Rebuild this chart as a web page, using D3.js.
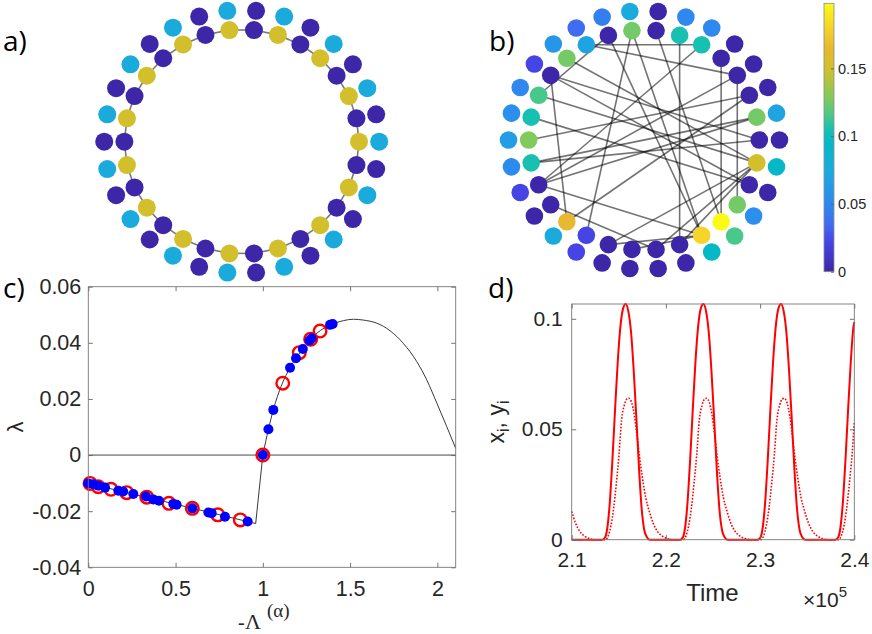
<!DOCTYPE html>
<html>
<head>
<meta charset="utf-8">
<script src="https://cdn.jsdelivr.net/npm/d3@7"></script>
<style>
  body { margin: 0; background: #fff; }
  svg { display: block; }
</style>
</head>
<body>
<svg id="fig" width="872" height="634"></svg>
<script>
// ---------------- data ----------------

// a) ring network: value of each node, inner ring and attached outer leaves
var ringInnerValue = [0.15,0,0.15,0,0.15,0,0.15,0,0.15,0,0.15,0,0.15,0,0.15,0,0.15,0,0.15,0,0.15,0,0.15,0,0.15,0,0.15,0,0.15,0];
var ringOuterValue = [0.075,0,0.075,0,0.075,0,0.075,0,0.075,0,0.075,0,0.075,0,0.075,0,0.075,0,0.075,0,0.075,0,0.075,0,0.075,0,0.075,0,0.075,0];

// b) random network
var netInnerValue = [0,0.125,0,0,0,0.105,0.105,0,0.125,0,0.07,0.125,0,0.115,0.105,0.128,0.105,0,0,0.165,0.022,0,0,0,0,0.18,0.198,0.125,0,0.15];
var netOuterValue = [0,0.07,0,0,0,0.05,0.05,0,0.075,0.045,0.035,0.06,0.022,0.05,0.055,0.065,0.052,0.022,0,0.075,0.022,0,0,0,0,0.095,0.115,0.055,0,0.095];
var netEdges = [[10,5],[6,24],[4,26],[3,27],[12,19],[9,13],[5,17],[17,3],[17,1],[17,25],
                [16,0],[16,1],[19,2],[8,20],[8,25],[7,26],[9,25],[12,28],[12,0],[10,3],
                [15,2],[13,29],[14,28],[11,29],[21,29],[21,25],[22,25],[18,23],[24,29],[23,29]];

// colour bar (parula-like)
var colorStops = [0,0.022,0.035,0.05,0.065,0.075,0.095,0.105,0.115,0.128,0.15,0.165,0.18,0.198];
var colorHex   = ["#3e26a8","#4545e6","#3f6cf0","#2e88f0","#229de6","#1aabdc","#04b8c8","#18c0b2","#48c88a","#80cb5c","#d2bf2b","#e8b830","#f6d42a","#f9fb14"];
var cbMax = 0.198;
var cbTicks = [0, 0.05, 0.1, 0.15];

// c) master stability function and Floquet exponents
var mstLower = [[0,-0.0101],[0.5,-0.0175],[0.959,-0.0244],[1.0,0]];
var mstUpper = [[1.0,0],[1.032,0.0092],[1.06,0.0161],[1.108,0.025],[1.156,0.0311],[1.229,0.0378],[1.309,0.0434],
                [1.4,0.0467],[1.461,0.0479],[1.519,0.0484],[1.576,0.0481],[1.653,0.047],[1.729,0.0443],[1.805,0.0398],
                [1.882,0.0333],[1.939,0.0268],[1.997,0.0185],[2.054,0.0101],[2.105,0.0024]];
var redPoints = [[0.01,-0.0101],[0.057,-0.0113],[0.13,-0.0122],[0.22,-0.0134],[0.335,-0.015],[0.462,-0.0172],
                 [0.596,-0.019],[0.742,-0.0213],[0.871,-0.0231],[1.0,0],[1.114,0.0256],[1.209,0.0365],[1.274,0.0413],[1.328,0.0442]];
var bluePoints = [[0,-0.0101],[0.029,-0.0104],[0.057,-0.0109],[0.096,-0.0116],[0.172,-0.0127],[0.2,-0.013],[0.258,-0.0139],
                  [0.331,-0.0148],[0.372,-0.0158],[0.405,-0.0163],[0.487,-0.0174],[0.506,-0.0177],[0.596,-0.019],[0.688,-0.0205],
                  [0.707,-0.0207],[0.783,-0.022],[0.913,-0.0237],[1.0,0],[1.032,0.0092],[1.06,0.0161],[1.156,0.0311],
                  [1.19,0.0345],[1.229,0.0378],[1.267,0.0408],[1.28,0.0416],[1.385,0.0464],[1.4,0.0467]];
var cXTicks = [0, 0.5, 1, 1.5, 2];
var cYTicks = [-0.04, -0.02, 0, 0.02, 0.04, 0.06];

// d) time series x_i (solid) and y_i (dotted), time in units of 1e5
var solidSeries = [[2.1,0],[2.1325,0],[2.1354,0.001],[2.1378,0.0053],[2.1403,0.016],[2.1431,0.0352],[2.146,0.0587],[2.1488,0.08],
  [2.1516,0.096],[2.1545,0.1046],[2.1573,0.1067],[2.1601,0.1035],[2.163,0.0939],[2.1658,0.0768],[2.1686,0.0555],[2.1715,0.032],
  [2.1743,0.0139],[2.1771,0.0043],[2.1799,0.0011],[2.1828,0],
  [2.215,0],[2.2179,0.001],[2.2203,0.0053],[2.2228,0.016],[2.2256,0.0352],[2.2285,0.0587],[2.2313,0.08],[2.2341,0.096],
  [2.237,0.1046],[2.2398,0.1067],[2.2426,0.1035],[2.2455,0.0939],[2.2483,0.0768],[2.2511,0.0555],[2.254,0.032],[2.2568,0.0139],
  [2.2596,0.0043],[2.2624,0.0011],[2.2653,0],
  [2.2974,0],[2.3003,0.001],[2.3027,0.0053],[2.3052,0.016],[2.308,0.0352],[2.3109,0.0587],[2.3137,0.08],[2.3165,0.096],
  [2.3194,0.1046],[2.3222,0.1067],[2.325,0.1035],[2.3279,0.0939],[2.3307,0.0768],[2.3335,0.0555],[2.3364,0.032],[2.3392,0.0139],
  [2.342,0.0043],[2.3448,0.0011],[2.3477,0],
  [2.3799,0],[2.3828,0.001],[2.3852,0.0053],[2.3877,0.016],[2.3905,0.0352],[2.3934,0.0587],[2.3962,0.08],[2.399,0.096],[2.4,0.0985]];
var dottedSeries = [[2.1,0.0128],[2.1039,0.0077],[2.1085,0.0038],[2.1138,0.0016],[2.1191,0.0005],[2.1244,0],
  [2.136,0],[2.1389,0.0019],[2.1417,0.0064],[2.1445,0.0141],[2.1474,0.0256],[2.1502,0.0384],[2.153,0.0544],[2.1558,0.0608],
  [2.1587,0.0637],[2.1608,0.064],[2.1636,0.0621],[2.1665,0.0563],[2.1693,0.0474],[2.1721,0.0371],[2.175,0.0282],[2.1785,0.0192],
  [2.1824,0.0128],[2.1863,0.0077],[2.1909,0.0038],[2.1962,0.0016],[2.2015,0.0005],[2.2068,0],
  [2.2185,0],[2.2214,0.0019],[2.2242,0.0064],[2.227,0.0141],[2.2299,0.0256],[2.2327,0.0384],[2.2355,0.0544],[2.2383,0.0608],
  [2.2412,0.0637],[2.2433,0.064],[2.2461,0.0621],[2.249,0.0563],[2.2518,0.0474],[2.2546,0.0371],[2.2575,0.0282],[2.261,0.0192],
  [2.2649,0.0128],[2.2688,0.0077],[2.2734,0.0038],[2.2787,0.0016],[2.284,0.0005],[2.2893,0],
  [2.3009,0],[2.3038,0.0019],[2.3066,0.0064],[2.3094,0.0141],[2.3123,0.0256],[2.3151,0.0384],[2.3179,0.0544],[2.3207,0.0608],
  [2.3236,0.0637],[2.3257,0.064],[2.3285,0.0621],[2.3314,0.0563],[2.3342,0.0474],[2.337,0.0371],[2.3399,0.0282],[2.3434,0.0192],
  [2.3473,0.0128],[2.3512,0.0077],[2.3558,0.0038],[2.3611,0.0016],[2.3664,0.0005],[2.3717,0],
  [2.3834,0],[2.3863,0.0019],[2.3891,0.0064],[2.3919,0.0141],[2.3948,0.0256],[2.3976,0.0384],[2.4,0.053]];
var dXTicks = [2.1, 2.2, 2.3, 2.4];
var dYTicks = [0, 0.05, 0.1];

// ---------------- drawing ----------------
var svg = d3.select("#fig");
var tickFont = "'Liberation Sans', Arial, Helvetica, sans-serif";
var labelFont = "'Open Sans', Lato, sans-serif";
var textColor = "#262626";

var color = d3.scaleLinear().domain(colorStops).range(colorHex).clamp(true);

// Circular layout: node i of n sits at angle 2*pi*i/n, outer leaves a bit further out
function drawNetwork(innerVal, outerVal, edges, box, edgeStyle) {
  var n = innerVal.length;
  var sx = d3.scaleLinear().domain([-1, 1]).range([box.cx - box.rx, box.cx + box.rx]);
  var sy = d3.scaleLinear().domain([-1, 1]).range([box.cy + box.ry, box.cy - box.ry]);
  function pos(i, rad) {
    var a = 2 * Math.PI * i / n;
    return [sx(rad * Math.cos(a)), sy(rad * Math.sin(a))];
  }
  var g = svg.append("g");
  g.selectAll("line")
    .data(edges)
    .join("line")
      .attr("x1", function(d) { return pos(d[0], 1)[0]; })
      .attr("y1", function(d) { return pos(d[0], 1)[1]; })
      .attr("x2", function(d) { return pos(d[1], 1)[0]; })
      .attr("y2", function(d) { return pos(d[1], 1)[1]; })
      .attr("stroke", edgeStyle.color)
      .attr("stroke-opacity", edgeStyle.opacity)
      .attr("stroke-width", edgeStyle.width);
  g.selectAll("circle.outer")
    .data(outerVal)
    .join("circle")
      .attr("class", "outer")
      .attr("cx", function(d, i) { return pos(i, box.outer)[0]; })
      .attr("cy", function(d, i) { return pos(i, box.outer)[1]; })
      .attr("r", box.r)
      .attr("fill", function(d) { return color(d); });
  g.selectAll("circle.inner")
    .data(innerVal)
    .join("circle")
      .attr("class", "inner")
      .attr("cx", function(d, i) { return pos(i, 1)[0]; })
      .attr("cy", function(d, i) { return pos(i, 1)[1]; })
      .attr("r", box.r)
      .attr("fill", function(d) { return color(d); });
}

// a) ring: every inner node linked to the next one
var ringEdges = ringInnerValue.map(function(d, i) { return [i, (i + 1) % ringInnerValue.length]; });
drawNetwork(ringInnerValue, ringOuterValue, ringEdges,
  {cx: 241.7, cy: 141.7, rx: 117.3, ry: 112.3, outer: 1.172, r: 9},
  {color: "#7a7a7a", opacity: 1, width: 1.6});

// b) random network
drawNetwork(netInnerValue, netOuterValue, netEdges,
  {cx: 644, cy: 140, rx: 115.3, ry: 110, outer: 1.175, r: 8.8},
  {color: "#000", opacity: 0.55, width: 1.6});

// colour bar
var cbX = 824, cbW = 10;
var cbY = d3.scaleLinear().domain([0, cbMax]).range([271.7, 3.3]);
var grad = svg.append("defs").append("linearGradient")
  .attr("id", "cbgrad").attr("x1", 0).attr("y1", 1).attr("x2", 0).attr("y2", 0);
grad.selectAll("stop")
  .data(colorStops)
  .join("stop")
    .attr("offset", function(d) { return d / cbMax; })
    .attr("stop-color", function(d, i) { return colorHex[i]; });
svg.append("rect")
  .attr("x", cbX).attr("y", cbY(cbMax))
  .attr("width", cbW).attr("height", cbY(0) - cbY(cbMax))
  .attr("fill", "url(#cbgrad)")
  .attr("stroke", "#8c8c8c").attr("stroke-width", 0.8);
var cbAxis = svg.append("g")
  .attr("transform", "translate(" + (cbX + cbW) + ",0)")
  .call(d3.axisRight(cbY).tickValues(cbTicks).tickFormat(function(d) { return String(d); })
        .tickSizeInner(-3).tickSizeOuter(0).tickPadding(4));
cbAxis.select(".domain").remove();
cbAxis.attr("font-family", tickFont).attr("font-size", 14.5).attr("color", "#666");
cbAxis.selectAll("text").attr("fill", textColor);

// MATLAB-like boxed axes with inward ticks on all four sides
function boxAxes(xs, ys, xt, yt, xfmt, yfmt, fs, padX, padY) {
  var g = svg.append("g");
  var x0 = xs.range()[0], x1 = xs.range()[1], y0 = ys.range()[0], y1 = ys.range()[1];
  var tl = 4.5;
  var specs = [
    [d3.axisBottom(xs).tickValues(xt).tickFormat(xfmt).tickPadding(padX), "translate(0," + y0 + ")"],
    [d3.axisTop(xs).tickValues(xt).tickFormat(""), "translate(0," + y1 + ")"],
    [d3.axisLeft(ys).tickValues(yt).tickFormat(yfmt).tickPadding(padY), "translate(" + x0 + ",0)"],
    [d3.axisRight(ys).tickValues(yt).tickFormat(""), "translate(" + x1 + ",0)"]
  ];
  specs.forEach(function(s) {
    var a = g.append("g").attr("transform", s[1])
      .call(s[0].tickSizeInner(-tl).tickSizeOuter(0));
    a.select(".domain").remove();
    a.attr("font-family", tickFont).attr("font-size", fs).attr("color", "#666");
    a.selectAll("line").attr("stroke-width", 0.9);
    a.selectAll("text").attr("fill", textColor);
  });
  g.append("rect")
    .attr("x", x0).attr("y", y1).attr("width", x1 - x0).attr("height", y0 - y1)
    .attr("fill", "none").attr("stroke", "#777").attr("stroke-width", 0.9);
  return g;
}

// c) panel
var cx = d3.scaleLinear().domain([0, 2.105]).range([88.3, 455.7]);
var cy = d3.scaleLinear().domain([-0.04, 0.06]).range([567.3, 286.7]);
svg.append("line")
  .attr("x1", cx(0)).attr("x2", cx(2.105)).attr("y1", cy(0)).attr("y2", cy(0))
  .attr("stroke", "#333").attr("stroke-width", 0.9);
var cLine = d3.line().x(function(d) { return cx(d[0]); }).y(function(d) { return cy(d[1]); });
svg.append("path").attr("d", cLine(mstLower))
  .attr("fill", "none").attr("stroke", "#222").attr("stroke-width", 0.9);
svg.append("path").attr("d", cLine.curve(d3.curveMonotoneX)(mstUpper))
  .attr("fill", "none").attr("stroke", "#222").attr("stroke-width", 0.9);
svg.append("g").selectAll("circle")
  .data(redPoints)
  .join("circle")
    .attr("cx", function(d) { return cx(d[0]); })
    .attr("cy", function(d) { return cy(d[1]); })
    .attr("r", 6.3)
    .attr("fill", "none").attr("stroke", "#ff0000").attr("stroke-width", 2.4);
svg.append("g").selectAll("circle")
  .data(bluePoints)
  .join("circle")
    .attr("cx", function(d) { return cx(d[0]); })
    .attr("cy", function(d) { return cy(d[1]); })
    .attr("r", 5)
    .attr("fill", "#0000ff");
boxAxes(cx, cy, cXTicks, cYTicks, function(d) { return String(d); }, function(d) { return String(d); }, 21.5, 13, 7);

svg.append("text")
  .attr("transform", "translate(23,427) rotate(-90)")
  .attr("text-anchor", "middle")
  .attr("font-family", tickFont).attr("font-size", 22).attr("fill", textColor)
  .text("λ");
var xl = svg.append("text")
  .attr("font-family", "'Liberation Serif', 'Times New Roman', serif").attr("fill", textColor);
xl.append("tspan").attr("x", 238).attr("y", 629).attr("font-size", 20).text("-");
xl.append("tspan").attr("x", 245).attr("y", 629).attr("font-size", 22).text("Λ");
xl.append("tspan").attr("x", 267).attr("y", 617).attr("font-size", 19).text("(α)");

// d) panel
var dx = d3.scaleLinear().domain([2.1, 2.4]).range([571.7, 854.3]);
var dy = d3.scaleLinear().domain([0, 0.1067]).range([539.7, 304]);
var dLine = d3.line().curve(d3.curveMonotoneX)
  .x(function(d) { return dx(d[0]); }).y(function(d) { return dy(d[1]); });
svg.append("path").attr("d", dLine(dottedSeries))
  .attr("fill", "none").attr("stroke", "#ff0000").attr("stroke-width", 1.6)
  .attr("stroke-dasharray", "1.6,1.6");
svg.append("path").attr("d", dLine(solidSeries))
  .attr("fill", "none").attr("stroke", "#ff0000").attr("stroke-width", 2);
boxAxes(dx, dy, dXTicks, dYTicks, d3.format(".1f"), function(d) { return String(d); }, 21, 12, 9);

svg.append("text")
  .attr("x", 712.5).attr("y", 601)
  .attr("text-anchor", "middle")
  .attr("font-family", tickFont).attr("font-size", 24).attr("fill", textColor)
  .text("Time");
var ex = svg.append("text")
  .attr("x", 803).attr("y", 607)
  .attr("font-family", tickFont).attr("font-size", 21).attr("fill", textColor);
ex.append("tspan").text("×10");
ex.append("tspan").attr("font-size", 15).attr("dy", -10).text("5");

var yl = svg.append("text")
  .attr("transform", "translate(504,422) rotate(-90)")
  .attr("text-anchor", "middle")
  .attr("font-family", tickFont).attr("font-size", 23).attr("fill", textColor);
yl.append("tspan").text("x");
yl.append("tspan").attr("font-size", 16).attr("dy", 5).text("i");
yl.append("tspan").attr("dy", -5).text(", y");
yl.append("tspan").attr("font-size", 16).attr("dy", 5).text("i");

// panel letters
var panelLetters = [["a)", 3, 51], ["b)", 489, 51], ["c)", 3, 298], ["d)", 488, 298]];
svg.append("g").selectAll("text")
  .data(panelLetters)
  .join("text")
    .attr("x", function(d) { return d[1]; })
    .attr("y", function(d) { return d[2]; })
    .attr("font-family", labelFont).attr("font-size", 28).attr("fill", "#000")
    .text(function(d) { return d[0]; });
</script>
</body>
</html>
